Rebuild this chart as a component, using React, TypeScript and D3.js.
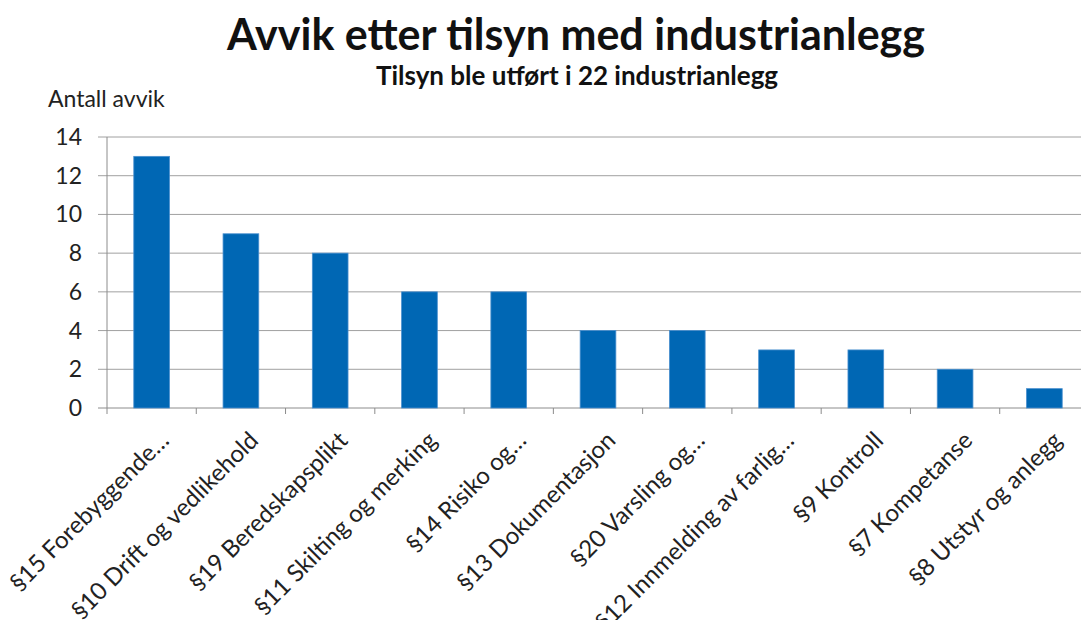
import React, { useEffect } from "react";
import * as d3 from "d3";

const categories = [
  "§15 Forebyggende…",
  "§10 Drift og vedlikehold",
  "§19 Beredskapsplikt",
  "§11 Skilting og merking",
  "§14 Risiko og…",
  "§13 Dokumentasjon",
  "§20 Varsling og…",
  "§12 Innmelding av farlig…",
  "§9 Kontroll",
  "§7 Kompetanse",
  "§8 Utstyr og anlegg",
];
const avvik = [13, 9, 8, 6, 6, 4, 4, 3, 3, 2, 1];
const yTicks = [0, 2, 4, 6, 8, 10, 12, 14];

const W = 1081;
const H = 620;
const FONT = "Lato, 'Open Sans', sans-serif";

const App = () => {
  useEffect(() => {
    document.body.style.margin = "0";
  }, []);

  // plot area runs a little past the right edge, as in the original
  const x = d3.scaleBand<string>().domain(categories).range([107, 1089]).paddingInner(0.6).paddingOuter(0.3);
  const band = d3.scaleBand<string>().domain(categories).range([107, 1089]);
  const y = d3.scaleLinear().domain([0, 14]).range([408, 137]);

  return (
    <svg width={W} height={H} style={{ display: "block", background: "#fff" }}>
      <text x={576} y={50} textAnchor="middle" fontFamily={FONT} fontWeight="bold" fontSize={43} fill="#111">
        Avvik etter tilsyn med industrianlegg
      </text>
      <text x={577} y={85} textAnchor="middle" fontFamily={FONT} fontWeight="bold" fontSize={26} fill="#111">
        Tilsyn ble utført i 22 industrianlegg
      </text>
      <text x={48} y={107} fontFamily={FONT} fontSize={23} fill="#222">
        Antall avvik
      </text>

      {/* gridlines + y ticks */}
      {yTicks.map((t) => (
        <g key={t}>
          <line x1={98} x2={1089} y1={y(t)} y2={y(t)} stroke={t === 0 ? "#8c8c8c" : "#a0a0a0"} strokeWidth={1} />
          <text x={82} y={y(t)} dy="0.35em" textAnchor="end" fontFamily={FONT} fontSize={23} fill="#222">
            {t}
          </text>
        </g>
      ))}
      <line x1={107} x2={107} y1={y(14)} y2={y(0)} stroke="#8c8c8c" />

      {/* x ticks at band boundaries */}
      {categories.map((c) => (
        <line key={c} x1={band(c)!} x2={band(c)!} y1={y(0)} y2={y(0) + 6} stroke="#8c8c8c" />
      ))}

      {categories.map((c, i) => (
        <rect
          key={c}
          x={x(c)}
          y={y(avvik[i])}
          width={x.bandwidth()}
          height={y(0) - y(avvik[i])}
          fill="#0067b4"
          stroke="#4a90cf"
          strokeWidth={0.8}
        />
      ))}

      {categories.map((c) => {
        const cx = band(c)! + band.bandwidth() / 2 + 7;
        const cy = 430;
        return (
          <text
            key={c}
            transform={`translate(${cx},${cy}) rotate(-45)`}
            textAnchor="end"
            dy="0.7em"
            fontFamily={FONT}
            fontSize={24}
            fill="#222"
          >
            {c}
          </text>
        );
      })}
    </svg>
  );
};

export default App;
